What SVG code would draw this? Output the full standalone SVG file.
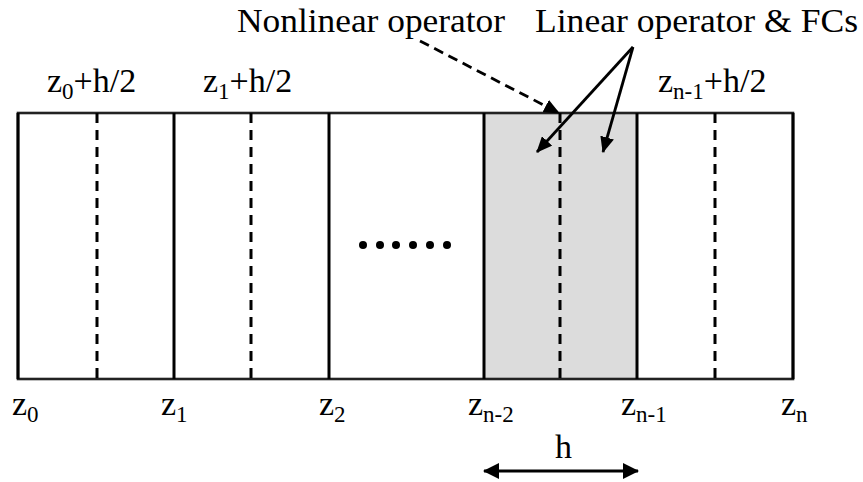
<svg xmlns="http://www.w3.org/2000/svg" width="863" height="482" viewBox="0 0 863 482">
<style>
text{font-family:"Liberation Serif","Times New Roman",serif;font-size:34px;fill:#000}
.sub{font-size:23px}
.solid{stroke:#000;stroke-width:3;fill:none}
.edge{stroke:#222;stroke-width:2.6;fill:none}
.dash{stroke:#000;stroke-width:3;stroke-dasharray:10 7;fill:none}
.arr{stroke:#000;stroke-width:2.8;fill:none}
</style>
<defs>
<marker id="ah" viewBox="0 0 16 14" refX="15" refY="7" markerWidth="16" markerHeight="14" markerUnits="userSpaceOnUse" orient="auto">
<path d="M0,0L16,7L0,14z" fill="#000"/>
</marker>
<marker id="ah2" viewBox="0 0 16 16" refX="15" refY="8" markerWidth="16" markerHeight="16" markerUnits="userSpaceOnUse" orient="auto-start-reverse">
<path d="M0,0L16,8L0,16z" fill="#000"/>
</marker>
</defs>
<g id="grid">
<rect x="484" y="113" width="153" height="266" fill="#dcdcdc"/>
<rect x="18" y="113" width="775" height="266" class="edge"/>
<line x1="18" y1="113" x2="18" y2="379" class="solid"/>
<line x1="174" y1="113" x2="174" y2="379" class="solid"/>
<line x1="329" y1="113" x2="329" y2="379" class="solid"/>
<line x1="484" y1="113" x2="484" y2="379" class="solid"/>
<line x1="637" y1="113" x2="637" y2="379" class="solid"/>
<line x1="793" y1="113" x2="793" y2="379" class="solid"/>
<line x1="97" y1="113" x2="97" y2="379" class="dash"/>
<line x1="251" y1="113" x2="251" y2="379" class="dash"/>
<line x1="560" y1="113" x2="560" y2="379" class="dash"/>
<line x1="715" y1="113" x2="715" y2="379" class="dash"/>
</g>
<g id="dots" fill="#000">
<circle cx="363" cy="245" r="4"/>
<circle cx="380" cy="245" r="4"/>
<circle cx="396" cy="245" r="4"/>
<circle cx="413" cy="245" r="4"/>
<circle cx="430" cy="245" r="4"/>
<circle cx="447" cy="245" r="4"/>
</g>
<g id="labels-top">
<text x="237" y="32" textLength="268" lengthAdjust="spacingAndGlyphs">Nonlinear operator</text>
<text x="535" y="32" textLength="323" lengthAdjust="spacingAndGlyphs">Linear operator &amp; FCs</text>
<text x="47" y="92">z<tspan class="sub" dy="7">0</tspan><tspan dy="-7">+h/2</tspan></text>
<text x="203" y="92">z<tspan class="sub" dy="7">1</tspan><tspan dy="-7">+h/2</tspan></text>
<text x="658" y="92">z<tspan class="sub" dy="7">n-1</tspan><tspan dy="-7">+h/2</tspan></text>
</g>
<g id="labels-bottom">
<text x="12" y="415">z<tspan class="sub" dy="7">0</tspan></text>
<text x="161" y="415">z<tspan class="sub" dy="7">1</tspan></text>
<text x="319" y="415">z<tspan class="sub" dy="7">2</tspan></text>
<text x="468" y="415">z<tspan class="sub" dy="7">n-2</tspan></text>
<text x="621" y="415">z<tspan class="sub" dy="7">n-1</tspan></text>
<text x="781" y="415">z<tspan class="sub" dy="7">n</tspan></text>
<text x="555" y="458">h</text>
</g>
<g id="connectors">
<line x1="420" y1="41" x2="559" y2="113" class="arr" stroke-dasharray="10 6" marker-end="url(#ah)"/>
<line x1="633" y1="47" x2="537" y2="152" class="arr" marker-end="url(#ah)"/>
<line x1="633" y1="47" x2="603" y2="152" class="arr" marker-end="url(#ah)"/>
<line x1="484" y1="471" x2="638" y2="471" class="arr" stroke-width="3.2" marker-start="url(#ah2)" marker-end="url(#ah2)"/>
</g>
</svg>
